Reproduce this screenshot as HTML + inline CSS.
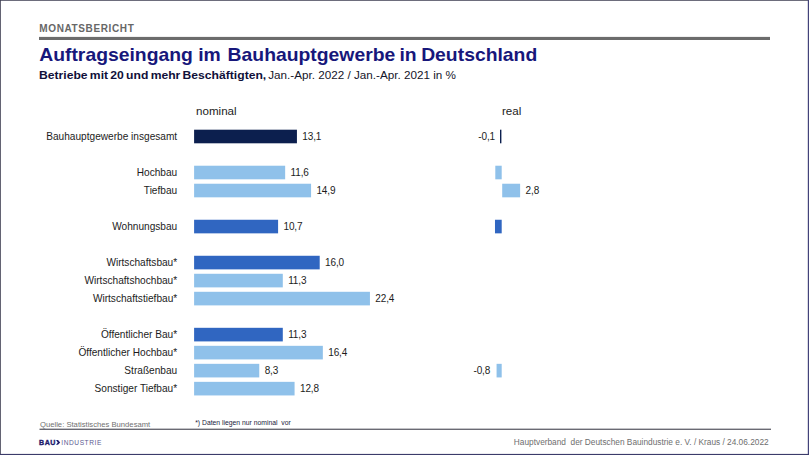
<!DOCTYPE html>
<html><head><meta charset="utf-8"><title>Monatsbericht</title>
<style>
html,body{margin:0;padding:0;}
body{width:809px;height:455px;overflow:hidden;background:#fff;font-family:"Liberation Sans",sans-serif;position:relative;}
#frame{position:absolute;left:0;top:0;width:809px;height:455px;box-sizing:border-box;border-style:solid;border-color:#3c3c64;border-width:1px 1.5px 1.5px 1px;}
.abs{position:absolute;white-space:pre;line-height:1;}
#mb{left:39.3px;top:23.6px;font-size:10px;font-weight:bold;letter-spacing:0.62px;color:#676767;}
#rule{position:absolute;left:39px;top:37.1px;width:731px;height:2.8px;background:#6b6b6b;}
#title{left:39.2px;top:44.6px;transform:scaleY(0.94);transform-origin:0 84.65%;font-size:19.35px;font-weight:bold;color:#17177b;}
#sub{left:39px;top:68.7px;transform:scaleY(0.91);transform-origin:0 84.65%;font-size:12.15px;word-spacing:-1.1px;color:#10103a;}
#sub2{left:268.2px;top:69.1px;font-size:11.7px;color:#15152a;}
#sub b{color:#10103a;}
.hd{position:absolute;font-size:11.6px;line-height:1;color:#222;white-space:pre;}
.lab{position:absolute;left:0;width:177.2px;text-align:right;font-size:10.12px;line-height:14px;height:14px;color:#1c1c1c;white-space:pre;}
.val{position:absolute;letter-spacing:-0.15px;font-size:10px;line-height:14px;height:14px;color:#1c1c1c;white-space:pre;}
.val.r{text-align:right;}
.bar{position:absolute;height:13.6px;}
#src{left:40px;top:421.3px;font-size:7.66px;color:#707070;}
#fn{left:195.2px;top:419.8px;font-size:6.8px;color:#1a1a3c;}
#rule2{position:absolute;left:39.5px;top:428.7px;width:731.5px;height:1.1px;background:#3a3a44;}
#foot{right:40.4px;top:438.0px;font-size:8.3px;color:#6e6e6e;}
#logo{left:38.7px;top:440.1px;font-size:6.6px;color:#1f1c6c;letter-spacing:0.5px;}
#logo b{font-weight:bold;-webkit-text-stroke:0.35px #1f1c6c;display:inline-block;transform:scaleX(1.07);transform-origin:0 50%;}
#logo2{left:61.3px;top:440.1px;font-size:6.6px;color:#5b5990;letter-spacing:0.56px;}
</style></head><body>
<div id="mb" class="abs">MONATSBERICHT</div>
<div id="title" class="abs">Auftragseingang im <span style="margin-left:1.4px">Bauhauptgewerbe</span> <span style="margin-left:-1.2px">in</span> <span style="margin-left:-0.9px">Deutschland</span></div>
<div id="sub" class="abs"><b>Betriebe mit 20 und mehr Beschäftigten,</b></div>
<div id="sub2" class="abs">Jan.-Apr. 2022 / Jan.-Apr. 2021 in %</div>
<div class="hd" style="left:196.0px;top:104.9px">nominal</div>
<div class="hd" style="left:502px;top:104.9px">real</div>
<svg id="bars" width="809" height="455" viewBox="0 0 809 455" style="position:absolute;left:0;top:0"><rect x="194.10" y="129.70" width="102.83" height="13.60" fill="#0c1f4e"/><rect x="500.00" y="129.70" width="1.40" height="13.60" fill="#0c1f4e"/><rect x="194.10" y="165.72" width="91.06" height="13.60" fill="#8fc1ea"/><rect x="495.30" y="165.72" width="6.40" height="13.60" fill="#8fc1ea"/><rect x="194.10" y="183.73" width="116.97" height="13.60" fill="#8fc1ea"/><rect x="502.20" y="183.73" width="17.92" height="13.60" fill="#8fc1ea"/><rect x="194.10" y="219.75" width="83.99" height="13.60" fill="#3066c1"/><rect x="494.98" y="219.75" width="6.72" height="13.60" fill="#3066c1"/><rect x="194.10" y="255.77" width="125.60" height="13.60" fill="#3066c1"/><rect x="194.10" y="273.78" width="88.70" height="13.60" fill="#8fc1ea"/><rect x="194.10" y="291.79" width="175.84" height="13.60" fill="#8fc1ea"/><rect x="194.10" y="327.81" width="88.70" height="13.60" fill="#3066c1"/><rect x="194.10" y="345.82" width="128.74" height="13.60" fill="#8fc1ea"/><rect x="194.10" y="363.83" width="65.16" height="13.60" fill="#8fc1ea"/><rect x="496.58" y="363.83" width="5.12" height="13.60" fill="#8fc1ea"/><rect x="194.10" y="381.84" width="100.48" height="13.60" fill="#8fc1ea"/><rect x="0" y="0" width="809" height="0.75" fill="#3d3d50"/><rect x="0" y="0" width="0.8" height="455" fill="#3d3d50"/><rect x="807.8" y="0" width="1.2" height="455" fill="#42427a"/><rect x="0" y="453.9" width="809" height="1.1" fill="#3b3b6a"/><rect x="39" y="36.9" width="731" height="3.1" fill="#6c6c6c"/><rect x="39.5" y="428.7" width="731.5" height="1.05" fill="#3a3a46"/><path d="M56.0 440.0 L58.0 440.0 L60.2 442.4 L58.0 444.8 L56.0 444.8 L57.8 442.4 Z" fill="#1f1c6c"/></svg>
<div class="lab" style="top:130.20px">Bauhauptgewerbe insgesamt</div>
<div class="val" style="left:302.33px;top:129.80px">13,1</div>
<div class="val r" style="left:440px;width:55.0px;top:129.80px">-0,1</div>
<div class="lab" style="top:166.22px">Hochbau</div>
<div class="val" style="left:290.56px;top:165.82px">11,6</div>
<div class="lab" style="top:184.23px">Tiefbau</div>
<div class="val" style="left:316.46px;top:183.83px">14,9</div>
<div class="val" style="left:525.62px;top:183.83px">2,8</div>
<div class="lab" style="top:220.25px">Wohnungsbau</div>
<div class="val" style="left:283.49px;top:219.85px">10,7</div>
<div class="lab" style="top:256.27px">Wirtschaftsbau*</div>
<div class="val" style="left:325.10px;top:255.87px">16,0</div>
<div class="lab" style="top:274.28px">Wirtschaftshochbau*</div>
<div class="val" style="left:288.20px;top:273.88px">11,3</div>
<div class="lab" style="top:292.29px">Wirtschaftstiefbau*</div>
<div class="val" style="left:375.34px;top:291.89px">22,4</div>
<div class="lab" style="top:328.31px">Öffentlicher Bau*</div>
<div class="val" style="left:288.20px;top:327.91px">11,3</div>
<div class="lab" style="top:346.32px">Öffentlicher Hochbau*</div>
<div class="val" style="left:328.24px;top:345.92px">16,4</div>
<div class="lab" style="top:364.33px">Straßenbau</div>
<div class="val" style="left:264.65px;top:363.93px">8,3</div>
<div class="val r" style="left:430px;width:60.18px;top:363.93px">-0,8</div>
<div class="lab" style="top:382.34px">Sonstiger Tiefbau*</div>
<div class="val" style="left:299.98px;top:381.94px">12,8</div>
<div id="src" class="abs">Quelle: Statistisches Bundesamt</div>
<div id="fn" class="abs">*) Daten liegen nur nominal  vor</div>
<div id="logo" class="abs"><b>BAU</b></div><div id="logo2" class="abs">INDUSTRIE</div>
<div id="foot" class="abs">Hauptverband  der Deutschen Bauindustrie e. V. / Kraus / 24.06.2022</div>
</body></html>
